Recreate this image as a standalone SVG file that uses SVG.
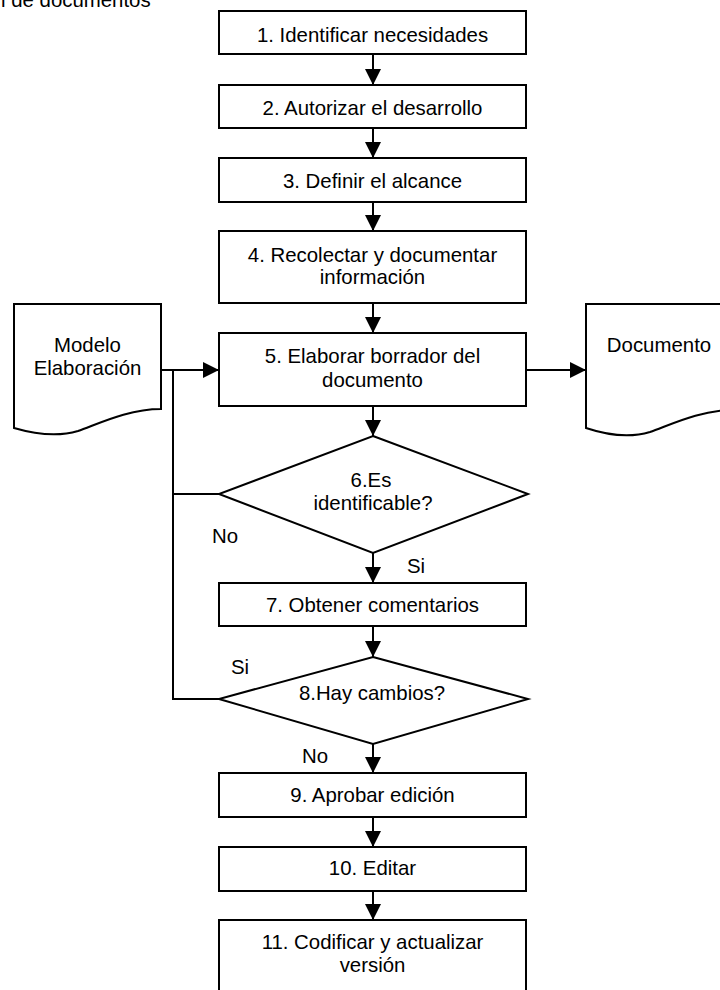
<svg xmlns="http://www.w3.org/2000/svg" width="720" height="990" viewBox="0 0 720 990">
  <style>
    .shape { fill: #ffffff; stroke: #000000; stroke-width: 2; }
    .line { fill: none; stroke: #000000; stroke-width: 2; }
    text { font-family: "Liberation Sans", Arial, sans-serif; font-size: 20.4px; fill: #000000; }
    .c { text-anchor: middle; }
  </style>
  <defs>
    <marker id="arrow" viewBox="0 0 16 16" refX="16" refY="8" markerWidth="16" markerHeight="16" markerUnits="userSpaceOnUse" orient="auto">
      <path d="M0,0 L16,8 L0,16 Z" fill="#000000"/>
    </marker>
  </defs>
  <rect width="720" height="990" fill="#ffffff"/>

  <!-- page title, running off the top edge -->
  <text x="1" y="7">l de documentos</text>

  <!-- connectors -->
  <g id="connectors">
    <line class="line" x1="373" y1="54" x2="373" y2="85" marker-end="url(#arrow)"/>
    <line class="line" x1="373" y1="128" x2="373" y2="158" marker-end="url(#arrow)"/>
    <line class="line" x1="373" y1="202" x2="373" y2="231" marker-end="url(#arrow)"/>
    <line class="line" x1="373" y1="303" x2="373" y2="333" marker-end="url(#arrow)"/>
    <line class="line" x1="373" y1="406" x2="373" y2="436" marker-end="url(#arrow)"/>
    <line class="line" x1="373" y1="553" x2="373" y2="583" marker-end="url(#arrow)"/>
    <line class="line" x1="373" y1="626" x2="373" y2="657" marker-end="url(#arrow)"/>
    <line class="line" x1="373" y1="744" x2="373" y2="773" marker-end="url(#arrow)"/>
    <line class="line" x1="373" y1="817" x2="373" y2="847" marker-end="url(#arrow)"/>
    <line class="line" x1="373" y1="891" x2="373" y2="920" marker-end="url(#arrow)"/>
    <!-- input document to draft -->
    <line class="line" x1="161" y1="370" x2="219" y2="370" marker-end="url(#arrow)"/>
    <!-- draft to output document -->
    <line class="line" x1="526" y1="370" x2="586" y2="370" marker-end="url(#arrow)"/>
    <!-- feedback loops back to step 5 -->
    <polyline class="line" points="219,699 173,699 173,370"/>
    <line class="line" x1="219" y1="494" x2="173" y2="494"/>
  </g>

  <g id="n1">
    <rect class="shape" x="219" y="11" width="307" height="43"/>
    <text class="c" x="372.5" y="42">1. Identificar necesidades</text>
  </g>
  <g id="n2">
    <rect class="shape" x="219" y="85" width="307" height="43"/>
    <text class="c" x="372.5" y="115">2. Autorizar el desarrollo</text>
  </g>
  <g id="n3">
    <rect class="shape" x="219" y="158" width="307" height="44"/>
    <text class="c" x="372.5" y="188">3. Definir el alcance</text>
  </g>
  <g id="n4">
    <rect class="shape" x="219" y="231" width="307" height="72"/>
    <text class="c" x="372.5" y="262">4. Recolectar y documentar</text>
    <text class="c" x="372.5" y="284">información</text>
  </g>
  <g id="n5">
    <rect class="shape" x="219" y="333" width="307" height="73"/>
    <text class="c" x="372.5" y="363">5. Elaborar borrador del</text>
    <text class="c" x="372.5" y="387">documento</text>
  </g>
  <g id="modelo">
    <path class="shape" d="M14,304 H161 V409 C128,409 98,424 78,431 C58,437 38,435 14,428 Z"/>
    <text class="c" x="87.5" y="352">Modelo</text>
    <text class="c" x="87.5" y="375">Elaboración</text>
  </g>
  <g id="documento">
    <path class="shape" d="M586,304 H733 V410 C700,410 670,425 650,432 C630,438 610,436 586,428 Z"/>
    <text class="c" x="659" y="352">Documento</text>
  </g>
  <g id="n6">
    <polygon class="shape" points="373,436 528,494 373,553 219,494"/>
    <text class="c" x="371" y="487">6.Es</text>
    <text class="c" x="373" y="510">identificable?</text>
  </g>
  <text x="212" y="543">No</text>
  <text x="407" y="573">Si</text>
  <g id="n7">
    <rect class="shape" x="219" y="583" width="307" height="43"/>
    <text class="c" x="372.5" y="612">7. Obtener comentarios</text>
  </g>
  <g id="n8">
    <polygon class="shape" points="373,657 528,699 373,744 219,699"/>
    <text class="c" x="372" y="700">8.Hay cambios?</text>
  </g>
  <text x="231" y="674">Si</text>
  <text x="302" y="763">No</text>
  <g id="n9">
    <rect class="shape" x="219" y="773" width="307" height="44"/>
    <text class="c" x="372.5" y="802">9. Aprobar edición</text>
  </g>
  <g id="n10">
    <rect class="shape" x="219" y="847" width="307" height="44"/>
    <text class="c" x="372.5" y="875">10. Editar</text>
  </g>
  <g id="n11">
    <rect class="shape" x="219" y="920" width="307" height="72"/>
    <text class="c" x="372.5" y="949">11. Codificar y actualizar</text>
    <text class="c" x="372.5" y="972">versión</text>
  </g>
</svg>
